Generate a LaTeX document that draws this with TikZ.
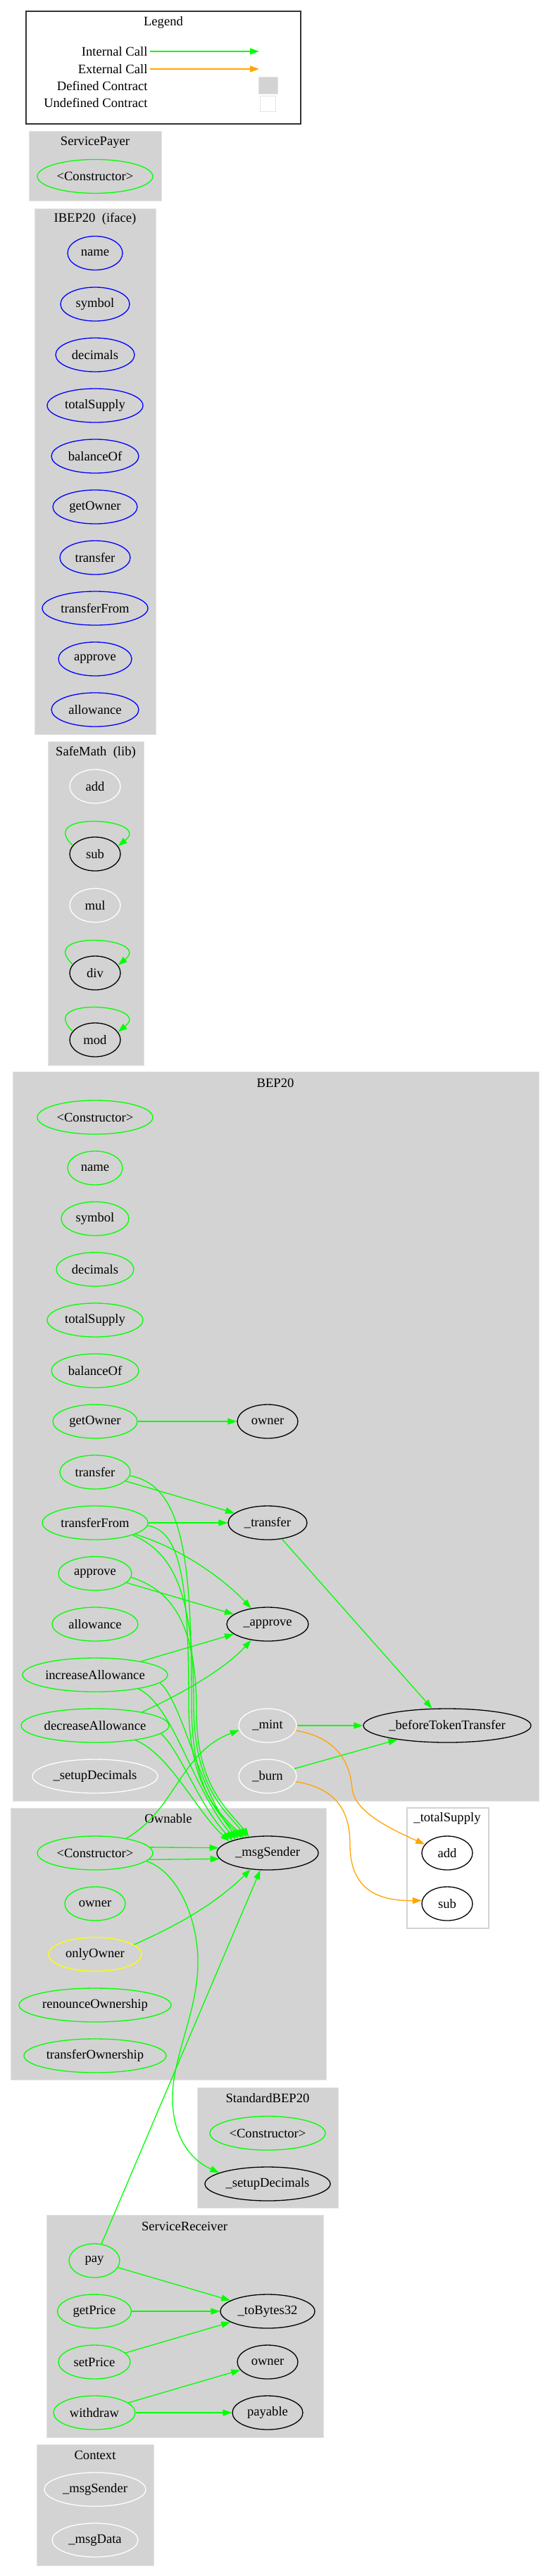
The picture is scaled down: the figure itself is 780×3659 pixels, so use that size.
\documentclass[tikz,border=0pt]{standalone}
\usepackage{fontspec}
\setmainfont{Liberation Serif}
\usetikzlibrary{shapes.geometric,arrows.meta}
\definecolor{lgreen}{HTML}{00FF00}
\definecolor{lorange}{HTML}{FFA500}
\definecolor{lgray}{HTML}{D3D3D3}
\definecolor{lblue}{HTML}{0000FF}
\definecolor{lyellow}{HTML}{FFFF00}
\definecolor{cborder}{HTML}{E4E4E4}
\tikzset{
  every node/.style={font=\fontsize{18.6}{22}\selectfont},
  fn/.style={ellipse, minimum height=48pt, inner sep=0pt, line width=1.3pt},
  icall/.style={draw=lgreen, line width=1.3pt, -{Triangle[length=13pt,width=9pt]}},
  ecall/.style={draw=lorange, line width=1.3pt, -{Triangle[length=13pt,width=9pt]}},
  cluster/.style={fill=lgray, draw=cborder, line width=1pt},
}
\begin{document}
\begin{tikzpicture}[x=1pt,y=-1pt]
\useasboundingbox[fill=white] (0,0) rectangle (780,3659);

% Legend
\draw[line width=1.3pt, draw=black!80] (37,16) rectangle (427,176);
\node (legtitle) at (232,32) {Legend};
\node[anchor=east] (lint) at (213,73) {Internal Call};
\node[anchor=east] (lext) at (213,98) {External Call};
\node[anchor=east] (ldef) at (213,122) {Defined Contract};
\node[anchor=east] (lund) at (213,146) {Undefined Contract};
\coordinate (lintend) at (368,73);
\coordinate (lextend) at (368,98);
\draw[icall] (lint.east) -- (lintend);
\draw[ecall] (lext.east) -- (lextend);
\node[fill=lgray, draw=cborder, line width=1pt, minimum width=27pt, minimum height=24pt, inner sep=0pt] (ldefbox) at (380.5,121) {};
\node[fill=white, draw=cborder, line width=1pt, minimum width=22pt, minimum height=22pt, inner sep=0pt] (lundbox) at (380,147) {};

% ServicePayer
\draw[cluster] (41,186) rectangle (229,285.5);
\node (sptitle) at (135,202) {ServicePayer};
\node[fn, draw=lgreen, minimum width=164pt] (spctor) at (135,250.5) {<Constructor>};

% IBEP20
\draw[cluster] (49,296) rectangle (221,1043);
\node (ititle) at (135,311) {IBEP20\ \ (iface)};
\node[fn, draw=lblue, minimum width=78pt]  (iname)   at (135,359.5) {name};
\node[fn, draw=lblue, minimum width=98pt]  (isymbol) at (135,432) {symbol};
\node[fn, draw=lblue, minimum width=112pt] (idec)    at (135,504) {decimals};
\node[fn, draw=lblue, minimum width=136pt] (itotal)  at (135,576) {totalSupply};
\node[fn, draw=lblue, minimum width=124pt] (ibal)    at (135,648) {balanceOf};
\node[fn, draw=lblue, minimum width=120pt] (igetown) at (135,720) {getOwner};
\node[fn, draw=lblue, minimum width=100pt] (itrans)  at (135,792) {transfer};
\node[fn, draw=lblue, minimum width=150pt] (itransf) at (135,864) {transferFrom};
\node[fn, draw=lblue, minimum width=104pt] (iappr)   at (135,936) {approve};
\node[fn, draw=lblue, minimum width=124pt] (iallow)  at (135,1008) {allowance};

% SafeMath
\draw[cluster] (68,1053) rectangle (204,1513);
\node (smtitle) at (136,1069) {SafeMath\ \ (lib)};
\node[fn, draw=white, minimum width=72pt] (smadd) at (135,1117) {add};
\node[fn, draw=black, minimum width=72pt] (smsub) at (135,1213) {sub};
\node[fn, draw=white, minimum width=72pt] (smmul) at (135,1286) {mul};
\node[fn, draw=black, minimum width=72pt] (smdiv) at (135,1382) {div};
\node[fn, draw=black, minimum width=72pt] (smmod) at (135,1477) {mod};
\draw[icall] (smsub.159) .. controls +(-53,-50) and +(50,-40) .. (smsub.19);
\draw[icall] (smdiv.159) .. controls +(-53,-50) and +(50,-40) .. (smdiv.19);
\draw[icall] (smmod.159) .. controls +(-53,-50) and +(50,-40) .. (smmod.19);

% BEP20
\draw[cluster] (18,1522) rectangle (765,2558);
\node (btitle) at (391,1538) {BEP20};
\node[fn, draw=lgreen, minimum width=164pt] (bctor)   at (135,1587) {<Constructor>};
\node[fn, draw=lgreen, minimum width=78pt]  (bname)   at (135,1659) {name};
\node[fn, draw=lgreen, minimum width=96pt]  (bsymbol) at (135,1731) {symbol};
\node[fn, draw=lgreen, minimum width=110pt] (bdecim)  at (135,1803) {decimals};
\node[fn, draw=lgreen, minimum width=136pt] (btotal)  at (135,1875) {totalSupply};
\node[fn, draw=lgreen, minimum width=124pt] (bbal)    at (135,1947) {balanceOf};
\node[fn, draw=lgreen, minimum width=120pt] (bgetown) at (135,2019) {getOwner};
\node[fn, draw=black,  minimum width=86pt]  (bowner)  at (380,2019) {owner};
\node[fn, draw=lgreen, minimum width=100pt] (btrans)  at (135,2091) {transfer};
\node[fn, draw=lgreen, minimum width=150pt] (btransf) at (135,2163) {transferFrom};
\node[fn, draw=black,  minimum width=112pt] (butrans) at (380,2163) {\_transfer};
\node[fn, draw=lgreen, minimum width=104pt] (bappr)   at (135,2235) {approve};
\node[fn, draw=lgreen, minimum width=122pt] (ballow)  at (135,2307) {allowance};
\node[fn, draw=black,  minimum width=116pt] (buappr)  at (380,2307) {\_approve};
\node[fn, draw=lgreen, minimum width=206pt] (binc)    at (135,2379) {increaseAllowance};
\node[fn, draw=lgreen, minimum width=210pt] (bdecr)   at (135,2451) {decreaseAllowance};
\node[fn, draw=white,  minimum width=82pt]  (bmint)   at (380,2451) {\_mint};
\node[fn, draw=black,  minimum width=238pt] (bbefore) at (635,2451) {\_beforeTokenTransfer};
\node[fn, draw=white,  minimum width=178pt] (bsetup)  at (135,2523) {\_setupDecimals};
\node[fn, draw=white,  minimum width=82pt]  (bburn)   at (380,2523) {\_burn};

% Ownable
\draw[cluster] (15,2568) rectangle (463,2954.5);
\node (otitle) at (239,2583) {Ownable};
\node[fn, draw=lgreen,  minimum width=164pt] (octor)  at (135,2632) {<Constructor>};
\node[fn, draw=black,   minimum width=144pt] (msgS)   at (380,2632) {\_msgSender};
\node[fn, draw=lgreen,  minimum width=86pt]  (oowner) at (135,2704) {owner};
\node[fn, draw=lyellow, minimum width=132pt] (oonly)  at (135,2776) {onlyOwner};
\node[fn, draw=lgreen,  minimum width=216pt] (orenou) at (135,2848) {renounceOwnership};
\node[fn, draw=lgreen,  minimum width=202pt] (otrown) at (135,2920) {transferOwnership};

% _totalSupply
\draw[fill=white, draw=lgray, line width=1.3pt] (578,2568) rectangle (694,2739);
\node (tstitle) at (635,2583) {\_totalSupply};
\node[fn, draw=black, minimum width=72pt] (tsadd) at (635,2632) {add};
\node[fn, draw=black, minimum width=72pt] (tssub) at (635,2704) {sub};

% StandardBEP20
\draw[cluster] (280,2965) rectangle (480,3136);
\node (sbtitle) at (380,2980) {StandardBEP20};
\node[fn, draw=lgreen, minimum width=164pt] (sbctor)  at (380,3030) {<Constructor>};
\node[fn, draw=black,  minimum width=178pt] (sbsetup) at (380,3102) {\_setupDecimals};

% ServiceReceiver
\draw[cluster] (66,3146) rectangle (459,3462);
\node (srtitle) at (262,3162) {ServiceReceiver};
\node[fn, draw=lgreen, minimum width=72pt]  (srpay)   at (134,3211) {pay};
\node[fn, draw=lgreen, minimum width=105pt] (srget)   at (134,3283) {getPrice};
\node[fn, draw=lgreen, minimum width=102pt] (srset)   at (134,3355) {setPrice};
\node[fn, draw=lgreen, minimum width=116pt] (srwith)  at (134,3427) {withdraw};
\node[fn, draw=black,  minimum width=134pt] (srbytes) at (380,3283) {\_toBytes32};
\node[fn, draw=black,  minimum width=86pt]  (srowner) at (380,3355) {owner};
\node[fn, draw=black,  minimum width=100pt] (srpayab) at (380,3427) {payable};

% Context
\draw[cluster] (52,3472) rectangle (218,3644);
\node (cxtitle) at (135,3487) {Context};
\node[fn, draw=white, minimum width=144pt] (cxmsgs) at (135,3536) {\_msgSender};
\node[fn, draw=white, minimum width=122pt] (cxmsgd) at (135,3608) {\_msgData};

% BEP20 edges
\draw[icall] (bgetown) -- (bowner);
\draw[icall] (btrans) -- (butrans);
\draw[icall] (btransf) -- (butrans);
\draw[icall] (btransf.-16) .. controls (260,2200) and (320,2245) .. (buappr.136);
\draw[icall] (bappr) -- (buappr);
\draw[icall] (binc) -- (buappr);
\draw[icall] (bdecr.16) .. controls (260,2405) and (320,2370) .. (buappr.224);
\draw[icall] (butrans) -- (bbefore);
\draw[icall] (bmint) -- (bbefore);
\draw[icall] (bburn) -- (bbefore);
\draw[ecall] (bmint.-10) .. controls (480,2468) and (497,2505) .. (500,2540) .. controls (503,2575) and (560,2600) .. (tsadd.159);
\draw[ecall] (bburn.-11) .. controls (480,2540) and (497,2575) .. (497,2620) .. controls (497,2690) and (545,2700) .. (tssub.173);

% calls to _msgSender
\draw[icall] (btrans.-6) .. controls (262,2110) and (272,2220) .. (272,2420) .. controls (272,2540) and +(-35,-35) .. (msgS.150);
\draw[icall] (btransf.-3) .. controls (255,2175) and (268,2240) .. (268,2420) .. controls (268,2540) and +(-35,-35) .. (msgS.147);
\draw[icall] (btransf.-18) .. controls (245,2205) and (275,2260) .. (275,2420) .. controls (275,2540) and +(-30,-38) .. (msgS.143);
\draw[icall] (bappr.-6) .. controls (240,2258) and (279,2300) .. (279,2430) .. controls (279,2540) and +(-28,-38) .. (msgS.139);
\draw[icall] (binc.-7) .. controls (258,2415) and +(-55,-65) .. (msgS.154);
\draw[icall] (binc.-18) .. controls (245,2420) and +(-60,-70) .. (msgS.157);
\draw[icall] (bdecr.-7) .. controls (255,2485) and +(-45,-45) .. (msgS.160);
\draw[icall] (bdecr.-20) .. controls (240,2490) and +(-45,-40) .. (msgS.163);

% Ownable edges
\draw[icall] (octor.6) -- (msgS.174);
\draw[icall] (octor.-7) -- (msgS.187);
\draw[icall] (octor.25) .. controls (250,2570) and (255,2490) .. (bmint.189);
\draw[icall] (octor.-9) .. controls (255,2660) and (282,2730) .. (281,2790) .. controls (280,2860) and (245,2920) .. (245,2980) .. controls (245,3040) and (275,3070) .. (sbsetup.167);
\draw[icall] (oonly.14) .. controls (240,2740) and (300,2710) .. (msgS.224);

% ServiceReceiver edges
\draw[icall] (srpay) -- (msgS);
\draw[icall] (srpay) -- (srbytes);
\draw[icall] (srget) -- (srbytes);
\draw[icall] (srset) -- (srbytes);
\draw[icall] (srwith) -- (srowner);
\draw[icall] (srwith) -- (srpayab);
\end{tikzpicture}
\end{document}
